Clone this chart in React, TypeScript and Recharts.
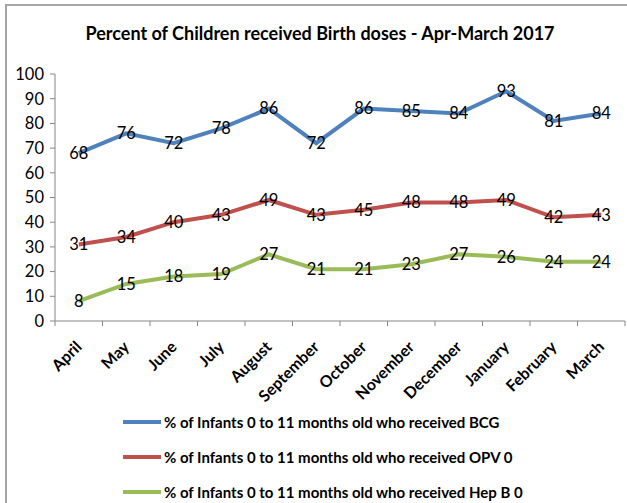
import React from 'react';
import { LineChart, Line, XAxis, YAxis, LabelList } from 'recharts';

const months = ['April', 'May', 'June', 'July', 'August', 'September', 'October', 'November', 'December', 'January', 'February', 'March'];
const bcg = [68, 76, 72, 78, 86, 72, 86, 85, 84, 93, 81, 84];
const opv0 = [31, 34, 40, 43, 49, 43, 45, 48, 48, 49, 42, 43];
const hepB0 = [8, 15, 18, 19, 27, 21, 21, 23, 27, 26, 24, 24];
const yTicks = [0, 10, 20, 30, 40, 50, 60, 70, 80, 90, 100];

const series = [
  { key: 'bcg', name: '% of Infants 0 to 11 months old who received BCG', color: '#4F81BD', values: bcg },
  { key: 'opv0', name: '% of Infants 0 to 11 months old who received OPV 0', color: '#C0504D', values: opv0 },
  { key: 'hepB0', name: '% of Infants 0 to 11 months old who received Hep B 0', color: '#9BBB59', values: hepB0 },
];

const data = months.map((m, i) => {
  const row: Record<string, string | number> = { month: m };
  series.forEach((s) => { row[s.key] = s.values[i]; });
  return row;
});

const W = 627;
const H = 503;
const plotLeft = 55;
const plotRight = 2;
const band = (W - plotLeft - plotRight) / months.length;
const font = 'Lato, "Open Sans", sans-serif';
const axisColor = '#868686';

const XTick = (props: any) => {
  const { x, y, payload, index } = props;
  const px = x;
  const py = y + 23;
  return (
    <g>
      <line x1={x - band / 2} y1={y} x2={x - band / 2} y2={y + 5} stroke={axisColor} />
      {index === months.length - 1 && (
        <line x1={x + band / 2} y1={y} x2={x + band / 2} y2={y + 5} stroke={axisColor} />
      )}
      <text x={px} y={py} dy="0.35em" textAnchor="end" transform={`rotate(-45, ${px}, ${py})`}
        fontFamily={font} fontWeight="bold" fontSize={16} fill="#000">
        {payload.value}
      </text>
    </g>
  );
};

export default function App() {
  return (
    <div style={{ position: 'absolute', left: 0, top: 0, width: W, height: H, background: '#fff', overflow: 'hidden' }}>
      <div style={{ position: 'absolute', left: 5, top: 4, width: W, height: H, borderLeft: '2px solid #A6A6A6', borderTop: '2px solid #A6A6A6' }} />
      <div style={{ position: 'absolute', left: 0, top: 22, width: 640, textAlign: 'center', fontFamily: font, fontWeight: 'bold', fontSize: 18, lineHeight: '22px', color: '#000' }}>
        Percent of Children received Birth doses - Apr-March 2017
      </div>
      <div style={{ position: 'absolute', left: 0, top: 0 }}>
        <LineChart width={W} height={H} data={data} margin={{ top: 74, right: plotRight, bottom: 0, left: 0 }}>
          <XAxis dataKey="month" scale="band" height={182} interval={0} tickLine={false} tickSize={0} tickMargin={0}
            stroke={axisColor} tick={<XTick />} />
          <YAxis domain={[0, 100]} ticks={yTicks} width={plotLeft} interval={0} stroke={axisColor}
            tickSize={5} tickMargin={6}
            tick={{ fill: '#000', fontSize: 16.5, fontFamily: font }} />
          {series.map((s) => (
            <Line key={s.key} dataKey={s.key} name={s.name} stroke={s.color} strokeWidth={4}
              dot={false} activeDot={false} isAnimationActive={false}>
              <LabelList dataKey={s.key} position="center" fill="#000" fontSize={16.5} fontFamily={font} />
            </Line>
          ))}
        </LineChart>
      </div>
      {series.map((s, i) => (
        <div key={s.key} style={{ position: 'absolute', left: 123, top: 413 + i * 35, height: 18, display: 'flex', alignItems: 'center' }}>
          <div style={{ width: 38, height: 4, background: s.color, marginRight: 3 }} />
          <span style={{ fontFamily: font, fontWeight: 'bold', fontSize: 15, color: '#000', whiteSpace: 'nowrap' }}>{s.name}</span>
        </div>
      ))}
    </div>
  );
}
